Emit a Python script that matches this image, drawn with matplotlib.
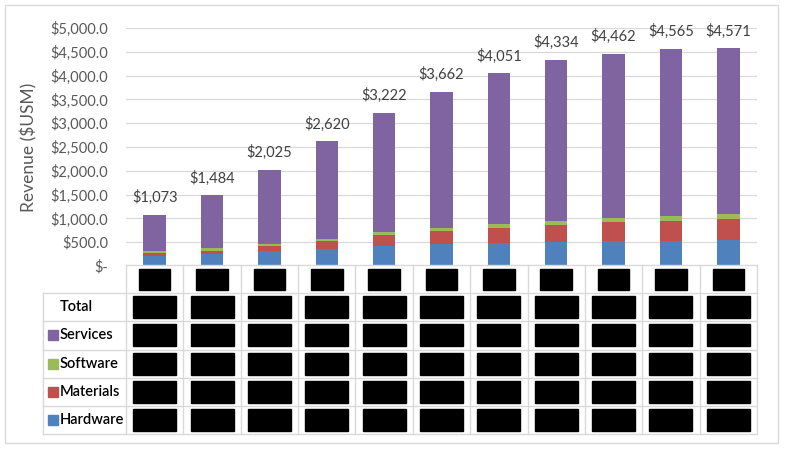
import numpy as np
import matplotlib
matplotlib.use('Agg')
import matplotlib.pyplot as plt
from matplotlib.patches import Rectangle
from matplotlib.ticker import FuncFormatter

plt.rcParams['font.family'] = ['Lato', 'DejaVu Sans']

# data (category labels are redacted in the source, shown as black boxes)
years = ['2015', '2016', '2017', '2018', '2019', '2020', '2021', '2022', '2023', '2024', '2025']
hardware = [205, 245, 310, 360, 425, 465, 480, 505, 520, 535, 540]
materials = [70, 80, 115, 175, 230, 280, 325, 365, 400, 410, 440]
software = [35, 45, 40, 40, 50, 55, 80, 70, 80, 110, 110]
totals = [1073, 1484, 2025, 2620, 3222, 3662, 4051, 4334, 4462, 4565, 4571]
services = [t - h - m - s for t, h, m, s in zip(totals, hardware, materials, software)]

series = [('Hardware', hardware, '#4f81bd'),
          ('Materials', materials, '#c0504d'),
          ('Software', software, '#9bbb59'),
          ('Services', services, '#8064a2')]

W, H = 800, 450
fig = plt.figure(figsize=(8, 4.5), dpi=100)

def px_axes(x0, y0, x1, y1):
    return fig.add_axes([x0 / W, 1 - y1 / H, (x1 - x0) / W, (y1 - y0) / H])

# outer frame
fig.patches.append(Rectangle((5 / W, 1 - 443 / H), 773 / W, 438 / H, transform=fig.transFigure,
                             fill=False, edgecolor='#d9d9d9', lw=1))

# chart
ax = px_axes(126, 28, 757, 266)
x = np.arange(len(years))
bottom = np.zeros(len(years))
for name, vals, col in series:
    ax.bar(x, vals, width=0.39, bottom=bottom, color=col, zorder=3)
    bottom += np.array(vals)

for xi, t in zip(x, totals):
    ax.annotate('${:,.0f}'.format(t), (xi, t), xytext=(0, 7), textcoords='offset points',
                ha='center', va='bottom', fontsize=10.5, color='#404040')

ax.set_xlim(-0.5, len(years) - 0.5)
ax.set_ylim(0, 5000)
ax.set_yticks(np.arange(0, 5001, 500))
ax.yaxis.set_major_formatter(FuncFormatter(lambda v, p: '$-' if v == 0 else '${:,.1f}'.format(v)))
ax.tick_params(axis='y', length=0, pad=13, labelsize=10.5, labelcolor='#595959')
ax.set_xticks([])
ax.grid(axis='y', color='#d9d9d9', lw=0.9, zorder=0)
for s in ax.spines.values():
    s.set_visible(False)
ax.set_ylabel('Revenue ($USM)', fontsize=12.5, color='#595959', labelpad=9)

# data table
tab = px_axes(43, 265, 757, 434)
colw = (757 - 126) / len(years)
x0 = -0.5 - (126 - 43) / colw
tab.set_xlim(x0, len(years) - 0.5)
tab.set_ylim(5.5, -0.5)
tab.axis('off')
gc = '#d9d9d9'
tab.plot([-0.5, len(years) - 0.5], [-0.5, -0.5], color=gc, lw=1, clip_on=False)
for r in range(6):
    tab.plot([x0, len(years) - 0.5], [r + 0.5, r + 0.5], color=gc, lw=1, clip_on=False)
for k in range(len(years) + 1):
    tab.plot([k - 0.5, k - 0.5], [-0.5, 5.5], color=gc, lw=1, clip_on=False)
tab.plot([x0, x0], [0.5, 5.5], color=gc, lw=1, clip_on=False)

rows = [('Total', totals, None)] + [(n, v, c) for n, v, c in series[::-1]]
lab_x = x0 + (60 - 43) / colw
sq_x = x0 + (52.5 - 43) / colw

for i, yr in enumerate(years):
    tab.add_patch(Rectangle((i - 0.275, -0.37), 0.55, 0.75, color='black'))
    tab.text(i, 0, yr, ha='center', va='center', fontsize=9, color='black')

for r, (name, vals, col) in enumerate(rows, start=1):
    tab.text(lab_x, r, name, ha='left', va='center', fontsize=10.5, color='black', fontweight='semibold')
    if col:
        tab.plot(sq_x, r, marker='s', ms=6.5, color=col, mec=col)
    for i, v in enumerate(vals):
        tab.add_patch(Rectangle((i - 0.375, r - 0.39), 0.75, 0.78, color='black'))
        tab.text(i, r, '${:,.0f}'.format(v), ha='center', va='center', fontsize=9, color='black')

fig.savefig('out.png', dpi=100)
